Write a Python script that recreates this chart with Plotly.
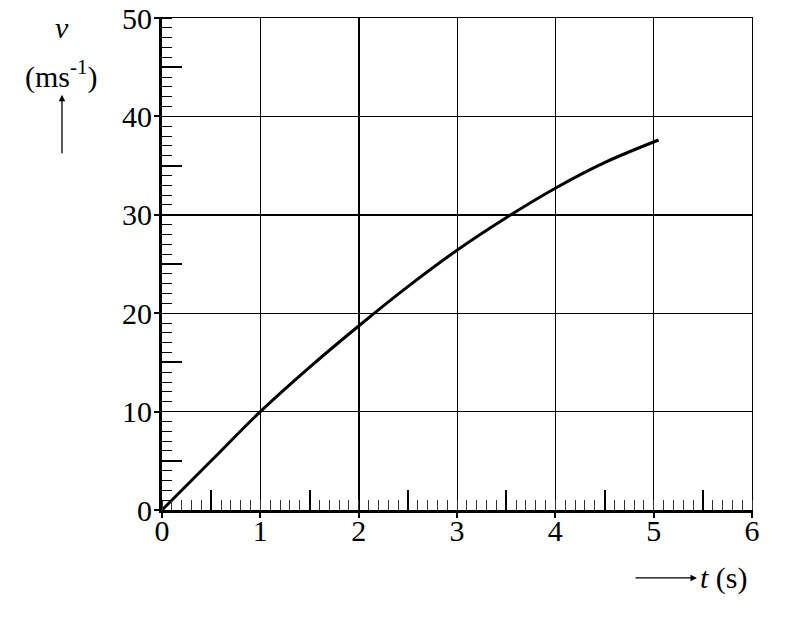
import plotly.graph_objects as go

# Data
t_vals = [0, 0.5, 1.0, 1.5, 2.0, 2.5, 3.0, 3.5, 4.0, 4.5, 5.05]
v_vals = [0, 5.0, 10.0, 14.5, 18.7, 22.7, 26.4, 29.7, 32.7, 35.3, 37.6]

x_major = [0, 1, 2, 3, 4, 5, 6]
y_major = [0, 10, 20, 30, 40, 50]
x_half = [0.5, 1.5, 2.5, 3.5, 4.5, 5.5]
y_half = [5, 15, 25, 35, 45]
x_bold = [2]
y_bold = [30]

FONT = "Liberation Serif, Times New Roman, serif"
FS = 30
fig = go.Figure()

fig.add_trace(go.Scatter(x=t_vals, y=v_vals, mode="lines", line=dict(color="black", width=3, shape="spline"),
                         showlegend=False, hoverinfo="skip"))
for xa, ya in [("x2", "y"), ("x3", "y"), ("x", "y2"), ("x", "y3")]:
    fig.add_trace(go.Scatter(x=[None], y=[None], xaxis=xa, yaxis=ya, showlegend=False))

common = dict(color="black", zeroline=False, fixedrange=True, automargin=False)
fig.update_layout(
    width=785, height=618,
    margin=dict(l=154, r=41, t=10, b=116, pad=0, autoexpand=False),
    plot_bgcolor="white", paper_bgcolor="white",
    font=dict(family=FONT, size=FS, color="black"),
    showlegend=False,
    xaxis=dict(range=[0, 6], tickvals=x_major, ticks="outside", ticklen=5, tickwidth=2,
               showline=True, linewidth=3, linecolor="black",
               showgrid=True, gridcolor="black", gridwidth=1,
               minor=dict(ticks="inside", dtick=0.1, ticklen=10, tickwidth=1, tickcolor="#333", showgrid=False),
               tickfont=dict(family=FONT, size=FS), ticklabeloverflow="allow", ticklabelstandoff=-13,
               **common),
    yaxis=dict(range=[0, 50], tickvals=y_major, ticks="outside", ticklen=5, tickwidth=2,
               showline=True, linewidth=3, linecolor="black",
               showgrid=True, gridcolor="black", gridwidth=1,
               minor=dict(ticks="inside", dtick=1, ticklen=10, tickwidth=1, tickcolor="black", showgrid=False),
               tickfont=dict(family=FONT, size=FS), ticklabeloverflow="allow", ticklabelstandoff=-4,
               **common),
    xaxis2=dict(overlaying="x", anchor="y", side="bottom", range=[0, 6], tickvals=x_half,
                ticks="inside", ticklen=20, tickwidth=1.5, tickcolor="black",
                showticklabels=False, showgrid=False, showline=False, **common),
    xaxis3=dict(overlaying="x", anchor="y", side="top", range=[0, 6], tickvals=x_bold,
                ticks="", showticklabels=False, showgrid=True, gridcolor="black", gridwidth=2,
                showline=True, linewidth=1, linecolor="black", **common),
    yaxis2=dict(overlaying="y", anchor="x", side="left", range=[0, 50], tickvals=y_half,
                ticks="inside", ticklen=20, tickwidth=1.5, tickcolor="black",
                showticklabels=False, showgrid=False, showline=False, **common),
    yaxis3=dict(overlaying="y", anchor="x", side="right", range=[0, 50], tickvals=y_bold,
                ticks="", showticklabels=False, showgrid=True, gridcolor="black", gridwidth=2,
                showline=True, linewidth=1, linecolor="black", **common),
)

# Axis titles and arrows
fig.add_annotation(xref="paper", yref="paper", x=-0.1695, y=0.981, xanchor="center", yanchor="middle",
                   text="<i>v</i>", showarrow=False, font=dict(family=FONT, size=FS))
fig.add_annotation(xref="paper", yref="paper", x=-0.1695, y=0.885, xanchor="center", yanchor="middle",
                   text="(ms<sup>-1</sup>)", showarrow=False, font=dict(family=FONT, size=FS))
fig.add_annotation(xref="paper", yref="paper", x=-0.1695, y=0.844, text="", showarrow=True,
                   ax=0, ay=60, arrowhead=2, arrowsize=1, arrowwidth=1.3, arrowcolor="black")
fig.add_annotation(xref="paper", yref="paper", x=0.9068, y=-0.138, text="", showarrow=True,
                   ax=-63, ay=0, arrowhead=2, arrowsize=1, arrowwidth=1.3, arrowcolor="black")
fig.add_annotation(xref="paper", yref="paper", x=0.9525, y=-0.138, xanchor="center", yanchor="middle",
                   text="<i>t</i> (s)", showarrow=False, font=dict(family=FONT, size=FS))

fig.write_html("out.html")
